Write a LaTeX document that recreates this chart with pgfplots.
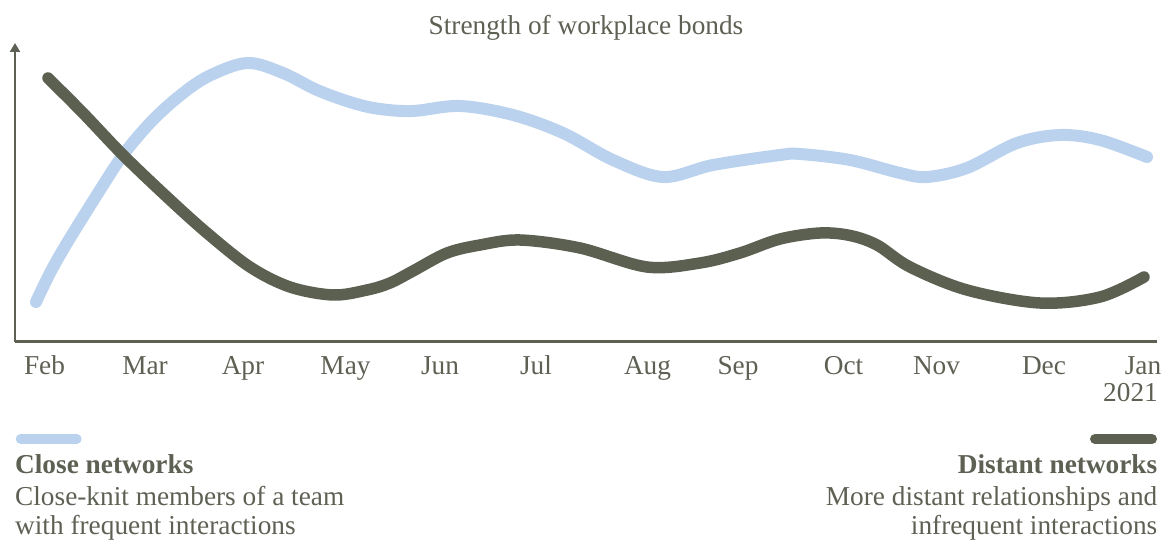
\documentclass[border=0pt]{standalone}
\usepackage{fontspec}
\setmainfont{Liberation Serif}
\usepackage{pgfplots}
\pgfplotsset{compat=1.18}
\usetikzlibrary{arrows.meta}
\definecolor{tg}{HTML}{5D6153}
\definecolor{dk}{HTML}{5C6051}
\definecolor{lb}{HTML}{BBD2EE}
\pgfplotstableread{
x y
36 39.7
50 68.7
67 98.7
100 151.7
123 186.7
150 218.7
177 243.7
207 264.7
247 278.7
283 268.7
317 251.7
353 238.7
380 232.7
413 230.7
460 235.7
513 226.7
563 208.7
613 181.7
663 164.7
713 176.7
780 186.7
800 187.7
850 181.7
900 168.7
927 164.7
967 173.7
1017 198.7
1060 206.7
1100 201.7
1147 184.7
}\closenet
\pgfplotstableread{
x y
48 263.7
83 228.7
123 186.7
167 144.7
207 108.7
250 74.7
290 54.7
333 46.7
367 51.7
390 58.7
413 70.7
447 88.7
480 96.7
520 101.7
580 93.7
647 74.7
700 78.7
740 88.7
780 102.7
820 108.7
850 106.2
877 96.7
910 74.7
967 51.7
1040 38.7
1100 44.7
1144 64.7
}\distantnet
\newcommand{\txt}{\fontsize{27.3}{31}\selectfont}
\begin{document}
\begin{tikzpicture}[x=1pt,y=1pt,every node/.style={text=tg,font=\txt}]
\useasboundingbox (0,0) rectangle (1167,541);
\begin{axis}[
  at={(15pt,199.3pt)}, anchor=south west,
  scale only axis, width=1142pt, height=298.7pt,
  xmin=15, xmax=1157, ymin=0, ymax=298.7,
  axis x line=bottom, axis y line=left,
  axis line style={draw=tg, line width=2.4pt},
  x axis line style={-},
  y axis line style={-{Triangle[width=10pt,length=9pt]}},
  ytick=\empty,
  xtick={44.5,145,243,345.5,440,536,647.5,738,843.5,936.5,1044,1143},
  xticklabels={Feb,Mar,Apr,May,Jun,Jul,Aug,Sep,Oct,Nov,Dec,Jan},
  major tick length=0pt,
  xticklabel style={anchor=base, inner sep=0pt, yshift=-32.3pt, text=tg, font=\txt},
  clip=false,
]
\addplot[lb, line width=12pt, line cap=round, smooth, tension=0.55] table[x=x,y=y] {\closenet};
\addplot[dk, line width=11.5pt, line cap=round, smooth, tension=0.55] table[x=x,y=y] {\distantnet};
\end{axis}
\node[anchor=base east, inner sep=0pt] at (1158,139) {2021};
\node[anchor=base, inner sep=0pt] at (586,506) {Strength of workplace bonds};
% legend
\draw[lb, line width=10pt, line cap=round] (20.7,102) -- (76.7,102);
\draw[dk, line width=10pt, line cap=round] (1095,102) -- (1152,102);
\node[anchor=base west, inner sep=0pt] at (15,68) {\textbf{Close networks}};
\node[anchor=base west, inner sep=0pt] at (15,36) {Close-knit members of a team};
\node[anchor=base west, inner sep=0pt] at (15,7) {with frequent interactions};
\node[anchor=base east, inner sep=0pt] at (1157.5,68) {\textbf{Distant networks}};
\node[anchor=base east, inner sep=0pt] at (1157.5,36) {More distant relationships and};
\node[anchor=base east, inner sep=0pt] at (1157.5,7) {infrequent interactions};
\end{tikzpicture}
\end{document}
